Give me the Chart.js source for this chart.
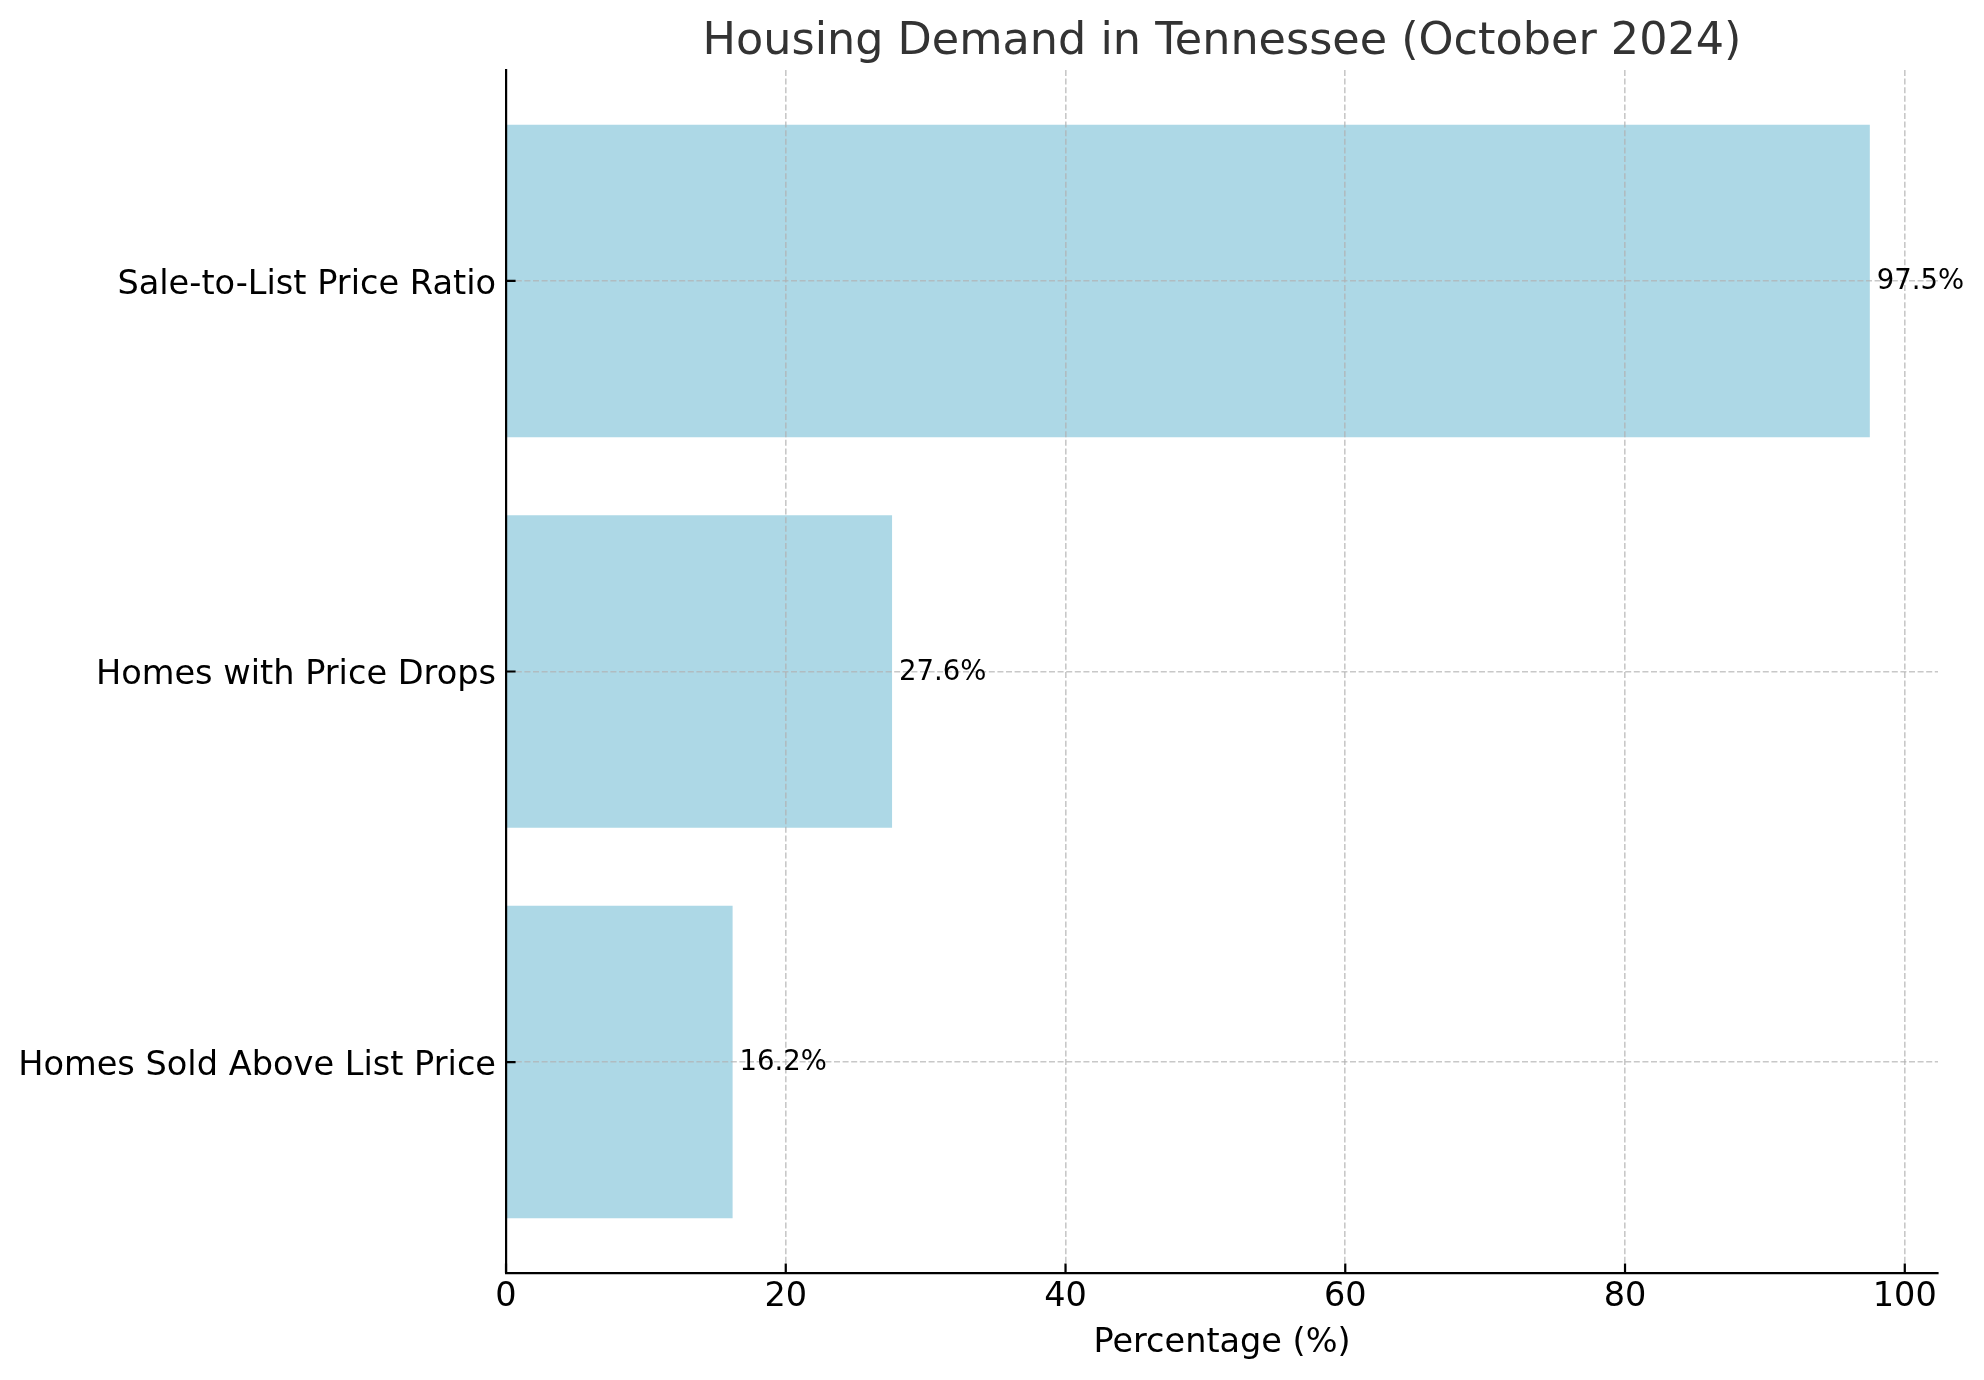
<!DOCTYPE html>
<html>
<head>
<meta charset="utf-8">
<title>Housing Demand in Tennessee (October 2024)</title>
<script src="https://cdn.jsdelivr.net/npm/chart.js@4.4.1/dist/chart.umd.min.js"></script>
<style>
  html, body { margin: 0; padding: 0; background: #fff; }
  #chart { display: block; }
</style>
</head>
<body>
<canvas id="chart" width="1984" height="1380"></canvas>
<script>
// bottom to top, like the original barh
const categories = ['Homes Sold Above List Price', 'Homes with Price Drops', 'Sale-to-List Price Ratio'];
const values = [16.2, 27.6, 97.5];
const xTicks = [0, 20, 40, 60, 80, 100];

const FONT = "'DejaVu Sans', sans-serif";
const chartTitle = 'Housing Demand in Tennessee (October 2024)';

// inward tick marks, value labels and the title
const extras = {
	id: 'extras',
	afterDraw(chart) {
		const { ctx, chartArea, scales: { x, y } } = chart;
		ctx.save();

		ctx.strokeStyle = '#000';
		ctx.lineWidth = 2.2;
		ctx.beginPath();
		xTicks.forEach(t => {
			const px = x.getPixelForValue(t);
			ctx.moveTo(px, chartArea.bottom);
			ctx.lineTo(px, chartArea.bottom - 9.6);
		});
		categories.forEach((c, i) => {
			const py = y.getPixelForValue(i);
			ctx.moveTo(chartArea.left, py);
			ctx.lineTo(chartArea.left + 9.6, py);
		});
		ctx.stroke();

		ctx.font = '27.5px ' + FONT;
		ctx.fillStyle = '#000';
		ctx.textAlign = 'left';
		ctx.textBaseline = 'middle';
		values.forEach((v, i) => {
			ctx.fillText(v.toFixed(1) + '%', x.getPixelForValue(v + 0.5), y.getPixelForValue(i) + 1);
		});

		ctx.font = '44.5px ' + FONT;
		ctx.fillStyle = '#333333';
		ctx.textAlign = 'center';
		ctx.textBaseline = 'alphabetic';
		ctx.fillText(chartTitle, (chartArea.left + chartArea.right) / 2, 54);

		ctx.restore();
	}
};

const gridColor = 'rgba(176,176,176,0.7)';

new Chart(document.getElementById('chart'), {
	type: 'bar',
	data: {
		datasets: [{
			data: values.map((v, i) => ({ x: v, y: i })),
			backgroundColor: '#ADD8E6',
			borderWidth: 0,
			categoryPercentage: 1.0,
			barPercentage: 0.8
		}]
	},
	options: {
		indexAxis: 'y',
		responsive: false,
		devicePixelRatio: 1,
		animation: false,
		layout: { padding: { top: 70, left: 0, right: 46, bottom: 0 } },
		plugins: {
			legend: { display: false },
			tooltip: { enabled: false },
			title: { display: false }
		},
		scales: {
			x: {
				type: 'linear',
				min: 0,
				max: 102.375,
				ticks: {
					stepSize: 20,
					includeBounds: false,
					padding: 4,
					color: '#000',
					font: { family: FONT, size: 33.5 }
				},
				grid: { color: gridColor, lineWidth: 1.6, drawTicks: false, z: 1 },
				border: { display: true, color: '#000', width: 2.2, dash: [6, 2.6], z: 2 },
				title: {
					display: true,
					text: 'Percentage (%)',
					color: '#000',
					font: { family: FONT, size: 33.5 },
					padding: { top: 0, bottom: 17 }
				},
				afterFit(scale) { scale.height = 107; }
			},
			y: {
				type: 'linear',
				min: -0.54,
				max: 2.54,
				offset: false,
				ticks: {
					stepSize: 1,
					includeBounds: false,
					padding: 10,
					labelOffset: 4,
					color: '#000',
					font: { family: FONT, size: 33.6 },
					callback: v => categories[v] ?? ''
				},
				grid: { color: gridColor, lineWidth: 1.6, drawTicks: false, offset: false, z: 1 },
				border: { display: true, color: '#000', width: 2.2, dash: [6, 2.6], z: 2 },
				afterFit(scale) { scale.width = 506; }
			}
		}
	},
	plugins: [extras]
});
</script>
</body>
</html>
